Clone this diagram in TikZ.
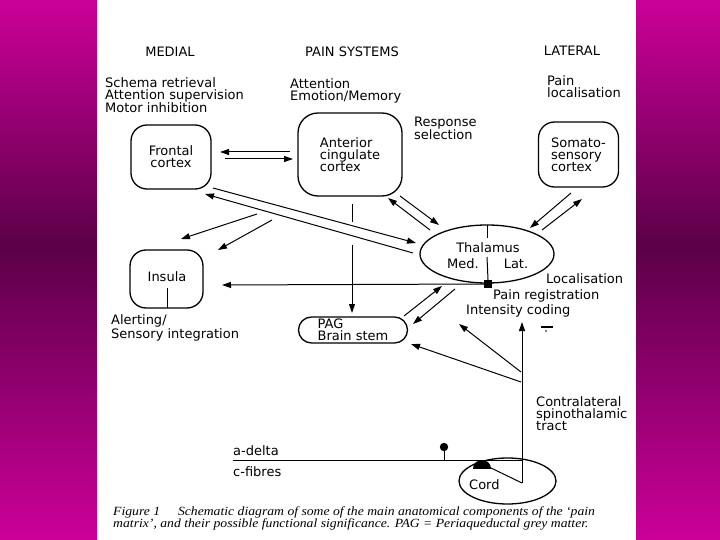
\documentclass[tikz,border=0pt]{standalone}
\usepackage{fontspec}
\setmainfont{DejaVu Sans}
\newfontfamily\capfont{Liberation Serif}
\usetikzlibrary{arrows.meta,shapes.geometric,shapes.misc,calc}
\definecolor{mag}{RGB}{204,0,153}
\definecolor{dmag}{RGB}{92,0,72}
\begin{document}
\begin{tikzpicture}[x=1pt,y=-1pt,
  lbl/.style={font=\fontsize{13}{12}\selectfont, inner sep=0pt, align=left, anchor=base west},
  hdr/.style={font=\fontsize{13}{12}\selectfont, inner sep=0pt, anchor=base},
  box/.style={draw, line width=1.3pt, rounded corners=16pt, inner sep=0pt, align=left,
    font=\fontsize{13}{12}\selectfont},
  ln/.style={line width=1pt},
  arr/.style={ln, -{Triangle[length=9pt,width=6pt]}},
  captxt/.style={font=\capfont\itshape\fontsize{12.5}{11}\selectfont, inner sep=0pt, anchor=base west, xscale=1.095, transform shape},
]
\useasboundingbox (0,0) rectangle (720,540);
% background
\shade[top color=mag, bottom color=dmag] (0,0) rectangle (97,245);
\shade[top color=dmag, bottom color=mag] (0,245) rectangle (97,540);
\shade[top color=mag, bottom color=dmag] (636,0) rectangle (720,245);
\shade[top color=dmag, bottom color=mag] (636,245) rectangle (720,540);
\fill[white] (97,0) rectangle (636,540);

% headers
\node[hdr] (hmed) at (170,57) {MEDIAL};
\node[hdr] (hpain) at (352,57) {PAIN SYSTEMS};
\node[hdr] (hlat) at (572,56) {LATERAL};

% function labels (anchor = baseline of last line)
\node[lbl] (fschema) at (105,113) {Schema retrieval\\Attention supervision\\Motor inhibition};
\node[lbl] (fatt) at (290,101) {Attention\\Emotion/Memory};
\node[lbl] (fpain) at (547,98) {Pain\\localisation};
\node[lbl] (fresp) at (414,140) {Response\\selection};
\node[lbl] (falert) at (111,338) {Alerting/\\Sensory integration};
\node[lbl] (floc) at (546,283) {Localisation};
\node[lbl] (freg) at (493,299) {Pain registration};
\node[lbl] (fint) at (466,314) {Intensity coding};
\node[lbl] (ftract) at (536,430) {Contralateral\\spinothalamic\\tract};
\node[lbl] (fad) at (233,455) {a-delta};
\node[lbl] (fcf) at (233,476) {c-fibres};

% boxes
\node[box, minimum width=80pt, minimum height=64pt, align=center] (frontal) at (171,157) {Frontal\\cortex};
\node[box, rounded corners=20pt, minimum width=104pt, minimum height=83pt] (acc) at (350,154.5) {Anterior\\cingulate\\cortex};
\node[box, minimum width=80pt, minimum height=65pt] (soma) at (578.5,154.5) {Somato-\\sensory\\cortex};
\node[box, minimum width=73pt, minimum height=58pt] (insula) at (166.5,279) {};
\node[hdr] (tinsula) at (167,281) {Insula};
\node[draw, line width=1.3pt, rounded rectangle, minimum width=109pt, minimum height=26pt, inner sep=0pt,
  align=left, font=\fontsize{13}{12}\selectfont] (pag) at (353,330) {PAG\\Brain stem};
\node[draw, line width=1.3pt, ellipse, minimum width=134pt, minimum height=58pt, inner sep=0pt] (thal) at (487,254) {};
\node[hdr] (tthal) at (488,252) {Thalamus};
\node[hdr] (tmed) at (463,268) {Med.};
\node[hdr] (tlat) at (516,268) {Lat.};
\node[draw, line width=1.3pt, ellipse, minimum width=97pt, minimum height=46pt, inner sep=0pt] (cord) at (507.5,481) {};
\node[lbl] (tcord) at (469,489) {Cord};
\node[fill, minimum size=8pt, inner sep=0pt] (sq) at (488,284) {};

% coordinates
\coordinate (a1s) at (290,152); \coordinate (a1e) at (220,152);
\coordinate (a2s) at (225,159); \coordinate (a2e) at (293,159);
\coordinate (a3s) at (213,188); \coordinate (a3e) at (416,243);
\coordinate (a4s) at (413,253); \coordinate (a4e) at (205,194);
\coordinate (a5s) at (257,214); \coordinate (a5e) at (181,239);
\coordinate (a6s) at (272,220); \coordinate (a6e) at (218,250);
\coordinate (a7s) at (400,196); \coordinate (a7e) at (439,225);
\coordinate (a8s) at (430,230); \coordinate (a8e) at (388,198);
\coordinate (a9s) at (571,193); \coordinate (a9e) at (530,228);
\coordinate (a10s) at (542,230); \coordinate (a10e) at (582,199);
\coordinate (v1) at (352,204); \coordinate (v2) at (352,222);
\coordinate (v3) at (352,245); \coordinate (v4) at (352,313);
\coordinate (ins) at (222,285);
\coordinate (a13s) at (404,316); \coordinate (a13e) at (442,286);
\coordinate (a14s) at (455,289); \coordinate (a14e) at (413,324);
\coordinate (tb) at (522,483); \coordinate (tt) at (522,322);
\coordinate (b1s) at (521,372); \coordinate (b1e) at (459,324);
\coordinate (b2s) at (521,382); \coordinate (b2e) at (411,344);
\coordinate (fl) at (233,460); \coordinate (fr) at (522,460);
\coordinate (blob) at (489,467);
\coordinate (lolb) at (444,460); \coordinate (lolt) at (444,447);
\coordinate (ith) at (167,308); \coordinate (itl) at (167,288);
\coordinate (th1) at (487,225); \coordinate (th2) at (487,238);
\coordinate (th3) at (487,257);
\coordinate (mk1) at (541,327); \coordinate (mk2) at (553,327);

% connectors
\draw[arr] (a1s) -- (a1e);
\draw[arr] (a2s) -- (a2e);
\draw[arr] (a3s) -- (a3e);
\draw[arr] (a4s) -- (a4e);
\draw[arr] (a5s) -- (a5e);
\draw[arr] (a6s) -- (a6e);
\draw[arr] (a7s) -- (a7e);
\draw[arr] (a8s) -- (a8e);
\draw[arr] (a9s) -- (a9e);
\draw[arr] (a10s) -- (a10e);
\draw[ln] (v1) -- (v2);
\draw[arr] (v3) -- (v4);
\draw[arr] (sq.west) -- (ins);
\draw[arr] (a13s) -- (a13e);
\draw[arr] (a14s) -- (a14e);
\draw[arr] (tb) -- (tt);
\draw[arr] (b1s) -- (b1e);
\draw[arr] (b2s) -- (b2e);
\draw[ln] (fl) -- (fr);
\draw[ln] (tb) -- (blob);
\fill (473,469) .. controls (473,457) and (491,457) .. (491,469) -- cycle;
\draw[ln] (lolb) -- (lolt);
\fill (lolt) circle[radius=4.2pt];
\draw[ln] (itl) -- (ith);
\draw[ln] (th1) -- (th2);
\draw[ln] (th3) -- (sq.north);
\draw[line width=1.2pt] (mk1) -- (mk2);
\fill (546,331) circle[radius=0.9pt];

% caption
\node[captxt] (cap1) at (113,515) {Figure 1\hspace{1.3em}Schematic diagram of some of the main anatomical components of the ‘pain};
\node[captxt] (cap2) at (113,527) {matrix’, and their possible functional significance. PAG = Periaqueductal grey matter.};
\end{tikzpicture}
\end{document}
